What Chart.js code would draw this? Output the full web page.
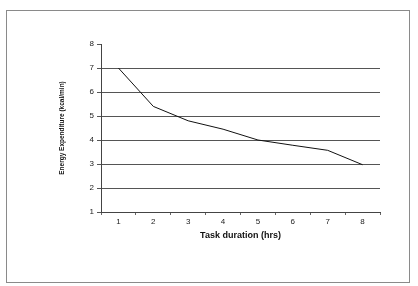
<!DOCTYPE html>
<html>
<head>
<meta charset="utf-8">
<script src="https://cdn.jsdelivr.net/npm/chart.js@4"></script>
<style>
  body { margin: 0; background: #fff; }
  #wrap { position: relative; width: 418px; height: 286px; }
  #frame { position: absolute; left: 6px; top: 10px; width: 402px; height: 271px; border: 1px solid #8a8a8a; }
  canvas { position: absolute; left: 0; top: 0; }
</style>
</head>
<body>
<div id="wrap">
  <div id="frame"></div>
  <canvas id="chart" width="418" height="286"></canvas>
</div>
<script>
const hours = ['1', '2', '3', '4', '5', '6', '7', '8'];
const energy = [7.0, 5.4, 4.8, 4.45, 4.0, 3.78, 3.57, 2.97];
const yMin = 1;
const yMax = 8;

const ctx = document.getElementById('chart').getContext('2d');
new Chart(ctx, {
  type: 'line',
  data: {
    labels: hours,
    datasets: [{
      data: energy,
      borderColor: '#111',
      borderWidth: 1,
      pointRadius: 0,
      tension: 0,
      fill: false
    }]
  },
  options: {
    responsive: false,
    animation: false,
    layout: { padding: { left: 40, right: 38, top: 44, bottom: 41 } },
    plugins: { legend: { display: false }, tooltip: { enabled: false } },
    scales: {
      x: {
        offset: true,
        afterFit: s => { s.height = 33; },
        border: { color: '#444', width: 1 },
        grid: { offset: true, drawOnChartArea: false, tickLength: 3, tickColor: '#666' },
        ticks: { color: '#222', font: { family: 'Liberation Sans', size: 8 }, padding: 2 },
        title: {
          display: true,
          text: 'Task duration (hrs)',
          color: '#111',
          font: { family: 'Liberation Sans', size: 9, weight: 'bold' },
          padding: { top: 2 }
        }
      },
      y: {
        min: yMin,
        max: yMax,
        afterFit: s => { s.width = 61; },
        border: { color: '#444', width: 1 },
        grid: {
          color: ctx => (ctx.tick && ctx.tick.value === yMax) ? 'rgba(0,0,0,0)' : '#555',
          tickColor: '#555',
          tickLength: 4,
          lineWidth: 1
        },
        ticks: { stepSize: 1, color: '#222', font: { family: 'Liberation Sans', size: 8 }, padding: 3 },
        title: {
          display: true,
          text: 'Energy Expenditure (kcal/min)',
          color: '#111',
          font: { family: 'Liberation Sans', size: 6.5, weight: 'bold' },
          padding: { top: 18, bottom: 0 }
        }
      }
    }
  }
});
</script>
</body>
</html>
